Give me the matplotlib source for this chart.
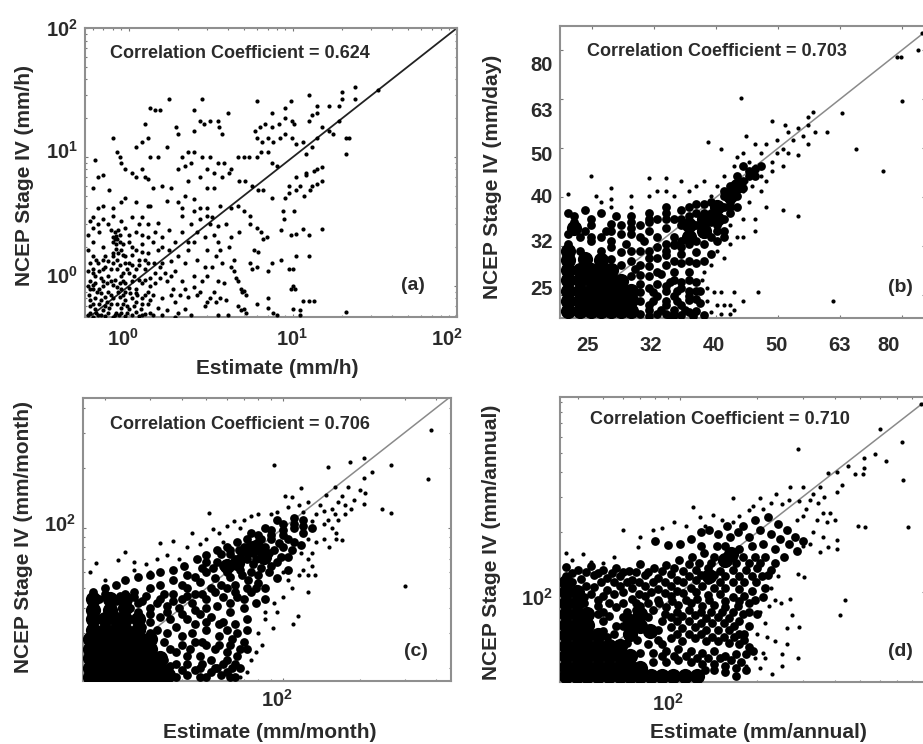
import matplotlib
matplotlib.use("Agg")
import matplotlib.pyplot as plt
from matplotlib.ticker import NullFormatter, LogLocator, NullLocator
from matplotlib.transforms import ScaledTranslation

# ---------- data (estimates) ----------
corr = ["Correlation Coefficient = 0.624", "Correlation Coefficient = 0.703",
        "Correlation Coefficient = 0.706", "Correlation Coefficient = 0.710"]

a_fine = [(1.35,24),(1.45,23),(1.55,23),(1.75,28),(2.5,23),(2.8,28),(4.0,22),(6.0,27),(7.5,22),(9.0,24),(9.7,27),(12.5,30),
(16.5,25),(20,32),(24,35),(24,28),(20,28),(14,25),(33,33),(19,25),(0.8,14),(0.85,11),(0.88,10),(0.9,9),(0.95,8),(1.25,18),(1.3,14),
(1.1,12),(1.2,13),(1.35,10),(1.5,10),(1.7,12),(1.95,17),(2.0,15),(2.5,16),(2.7,19),(3.1,19),(3.5,19),(3.55,17),(3.7,15),(2.85,18),
(5.9,16),(6.3,17),(6.8,18),(7.5,17),(8.2,18),(9,20),(9.8,19),(10.2,18),(6,14),(6.5,13),(7,14),(7.6,13),(8.3,14),(9,15),(9.8,14),
(10.5,12.5),(11.5,13),(12.5,19),(13,21),(14,22),(15,17),(16.5,16),(17.5,15),(19,19),(21,14),(22,14),(21,10.5),(13,12),(12,10.5),(14,14),
(2.1,10),(2.3,11),(2.5,11),(2.8,10),(3.1,10),(3.5,9),(3.8,9),(4.2,8),(4.6,10),(5,10),(5.4,10),(6,10),(6.4,11),(7,11),(7.5,9),(8,8.5),
(2,8),(2.2,8.5),(2.4,9),(3,8),(3.3,7.5),(3.7,7),(4.1,7.5),(2.3,6.5),(2.7,7),(4.7,6.5),(5.1,6.5),(5.6,6),(6.1,5.5),(6.6,5.5),(7.5,4.8),
(1.2,8),(1.25,7),(1.3,6.7),(1.1,7),(1.05,7.5),(1.4,5.8),(1.6,6),(1.8,5.8),(3.0,5.7),(3.3,5.8),(2.2,5),(2.5,4.7),(0.6,5.8),(0.65,7),
(0.7,7.3),(0.62,9.5),(0.76,5.5),(0.9,4.5),(0.95,4.8),(1.1,4.5),(1.3,4.2),(1.35,4.2),(1.7,4.6),(2,4.5),(2.1,4),(2.5,3.8),(2.7,4),(3,4),
(3.2,3.4),(3.6,4.2),(4.2,4),(4.6,4.2),(5,3.8),(5.5,3.5),(2.1,3.5),(2.4,3),(2.7,3.3),(3.1,3),(3.5,2.9),(3.9,3),(0.65,4),(0.7,4.2),(0.8,4),
(0.6,3.4),(0.7,3.3),(0.8,3.5),(0.9,3.2),(1.05,3.4),(1.2,3.4),(1.5,3.1),(1.75,2.7),(2.1,2.6),(2.6,2.6),(2.9,2.4),(3.3,2.5),(4.2,2.4),(4.7,2.6),
(5.5,3),(6,2.8),(6.4,2.6),(6.6,2.3),(6.9,2.4),(5.8,1.9),(8.5,2.7),(8.8,3.3),(10.2,3.8),(9,4.8),(9.5,5.3),(10.5,5.5),(11,6),(11.7,5),(12.7,5.5),
(14,6.2),(15,6.5),(13,6),(12,7.2),(13.5,7.8),(15,8.3),(14,8),(10.5,7),(12,7.5),(9.5,6),(8.7,3.8),(9.7,2.5),(10.4,2.55),(11.5,2.75),(12.5,2.5),
(15,2.75),(7.5,1.5),(7,1.3),(8.5,1.6),(6,1.4),(5.6,1.35),(5.5,1.5),(6.1,1.85),(10.5,1.7),(12.5,1.7),(9.5,1.35),(10,1.35),(9.7,.95),(10.3,.95),(10,1.0),
(21,0.63),(12.5,.77),(11.5,.77),(13.5,.77),(10,.66),(11,.65),(11,.6),(6,.72),(7,.8),(7,.68),(8,.6),(7.6,.62),(5,.66),(4.6,.7),(4.8,.65),
(3.1,.8),(3.4,.75),(3.6,.8),(2.9,.7),(3.0,.75),(3.9,.78),(3.5,.6),(4,.6),(5.2,.62),(4.4,1.6),(4.2,1.4),(4.4,1.3),(4.5,1.15),(4.6,1.1),(4.8,.95),
(5,.92),(4.9,.9),(5.2,.85),(3.4,1.7),(3.7,1.5),(3.2,1.4),(3.5,1.1),(3.8,1.05),(2.5,.98),(2.6,.85),(2.7,.9),(2.5,1.2),(2.9,1.4),(2.2,1.5),(2.0,1.7),
(2.3,1.9),(1.75,1.9),(1.6,2),(1.9,1.3),(2.1,1.1),(2.6,1.6),(3,1.9),(3.6,1.9),(4.1,2),(1.4,2.2),(1.5,1.9),(1.55,1.4),(1.7,1.1),(1.85,.95),(1.6,.8),
(1.9,.75),(1.3,.72),(1.5,.68),(1.7,.65),(2,.62),(2.2,.66),(2.4,.6),(1.6,.6),(1.9,.58),(1.4,.6),(1.25,.85),(1.35,1),(1.45,1.25),(1.25,1.35),(1.15,1.6),
(1.05,2),(1.2,2.1),(1.3,1.8),(1.0,2.2),(.82,2.6),(.85,2.3),(.8,2.4),(.88,2.2),(.83,2.1),(.9,1.9),(.8,1.8),(.95,1.7),(1,1.5),(1.1,1.35),(1.05,1.1),
(.95,1.05),(.9,1.2),(.85,1.35),(.8,1.5),(.75,1.2),(.7,1.35),(.65,1.5),(.6,1.7),(.56,1.9),(.6,2.2),(.56,2.5),(.66,2.6),(.7,2),(.72,1.7),(.62,1.2),(.58,1.1),
(.56,1),(.6,1.02),(.66,.95),(.7,1),(.75,.9),(.8,1.02),(.85,.98),(.9,.95),(.95,.9),(1,.97),(1.1,.95),(1.2,1.05),(.57,.85),(.62,.8),(.68,.78),(.74,.75),(.8,.8),
(.88,.82),(.95,.78),(1.05,.8),(1.12,.85),(.58,.7),(.62,.66),(.7,.65),(.76,.68),(.83,.62),(.9,.68),(1,.66),(1.08,.7),(1.18,.66),(.56,.6),(.6,.58),(.65,.6),(.72,.59),
(.8,.58),(.87,.6),(.95,.59),(1.05,.6),(1.15,.59),(1.25,.61),(.58,.78),(.64,.9),(.72,.82),(.78,1.1),(.92,1.1),(1,1.25),(.68,1.15),(.6,1.35),(.56,1.3),(.75,1.55),(.85,1.6),
(.6,.95),(.7,1.1),(.62,1.05),(.74,1.05),(.82,1.12),(.88,1.05),(.92,1.25),(.98,1.35),(1.08,1.2),(1.15,1.12),(1.25,1.12),(1.35,1.15),(1.45,1.05),(1.55,1.15),(1.65,1.25),(1.8,1.2),(.58,.95),
(.68,.88),(.78,.85),(.86,.9),(.92,.85),(1.02,.88),(1.1,.88),(1.2,.8),(1.3,.9),(1.4,.85),(.6,.72),(.66,.72),(.72,.7),(.78,.72),(.85,.72),(.92,.72),(.98,.7),(1.1,.75),(1.2,.72),(1.35,.78),
(.58,.62),(.63,.62),(.68,.6),(.75,.62),(.82,.6),(.9,.62),(.98,.62),(1.1,.63),(1.2,.6),(1.35,.62),(.6,1.25),(.66,1.3),(.72,1.4),(.78,1.35),(.88,1.45),(.95,1.5),(1.05,1.45),(1.15,1.45),(1.3,1.5),
(1.42,1.5),(1.6,1.5),(1.8,1.55),(.58,1.5),(.63,1.6),(.7,1.6),(.8,1.7),(.86,1.8),(.92,1.75),(1.05,1.75),(1.2,1.85),(1.1,1.9),(1.25,1.6),(.82,2.3),(.84,2.45),(.78,2.7),(.86,2.7),(.8,2.2),(.88,2.5),
(.83,1.95),(.92,2.1),(1,2.5),(1.1,2.6),(1.2,2.5),(1.3,2.4),(.6,2.8),(.65,3),(.58,3.2),(.75,3),(.95,2.8),(1.15,3),(1.3,3),(1.45,2.6),(1.6,2.4),(1.9,2.2),(2.5,2.2),(3.5,2.2),(3,3.5),(2.3,2.2),(3,1.2),
(2.2,.95),(2.3,.82),(1.8,.85),(2.05,.85),(3.3,.9),(2.8,1.1)]

b_fine = [(43.6,63.5),(38.7,51.5),(40.5,50),(25,44),(23,40.5),(27,41.5),(31,43.5),(33,43.5),(44.5,53),(49,57),(51.5,56),(57,59.5),(63.5,59),(57.5,54),
(60,54),(67,50),(74,45),(79,77),(78,77),(79.5,62.5),(84.3,79.4),(85.5,86),(51,37.5),(54,36.5),(61.5,24.5),(46.5,25.5),(42.5,25.5),(44,24.5),(56,58),(56,56),(54,55),
(52,54),(50,52),(48,51),(46,51),(44,49),(47,49),(50,49),(52,49),(54,48.5),(56,51),(55,53),(53,52),(51,50),(49,47),(51,46),(49,45),(47,44),(46,46),(48,43),(45,47),
(43,48),(42.5,46),(47,41),(48,38),(46,36),(45,39),(44,36),(46,34),(44,33),(43,33),(42,35),(42,32),(41,30),(40,31),(39,29),(38,28),(37.8,27),(38.5,26),(39.5,25.5),(40.5,25.5),
(38.5,24.5),(40,24),(41,24),(42,24),(42.5,23.5),(39,23.2),(40.5,23),(42,23),(39,40),(40,42),(41,44),(38,43),(36,41),(35,43),(37,42),(33,41),(32,41),(31,40),(29,40),
(27,39.5),(26,39),(25.5,40),(27,38),(29,38),(34,40),(36,38),(44,41),(43,42),(44.5,43),(45.5,42)]
b_mid = [(23,37),(24.5,37.5),(26,37),(23.5,35.5),(25,36),(27.5,36.5),(29,36.5),(31,37),(33,38),(35,37.5),(37,38.5),(39,39),(41,40),(28,35),(30,35),(32,36),(34,36),(36,36.5),
(38,37),(40,37.5),(42,38),(23,33.5),(24.5,34),(26.5,34),(29,33.5),(31,34),(33,34.5),(35,35),(37,35),(39,35.5),(41,36),(43,40),(44,43),(23,32),(25,32.5),(27,32.5),(28.5,32),(30.5,32.5),
(32,33),(34,33),(36,33.5),(38,33.5),(40,34),(42,37),(43,44),(45,45),(46,44),(24,31),(26,31),(28,30.8),(30,31),(32,31.5),(34,31.8),(36,32),(38,32),(40,32.5),(41,34),(44,46),(42,42),
(27,29.8),(29,29.5),(31,30),(33,30.3),(35,30.5),(37,30.8),(39,30.5),(29.5,28.5),(31,28.8),(33,29),(35,29.2),(37,29.3),(29,27.5),(31,27.5),(32.5,27.8),(34,28),(36,28),(38,29.5),
(30,26.5),(32,26.5),(33.5,26.8),(35,26.8),(37,26.8),(30,25.5),(31.5,25.5),(33,25.6),(34.5,25.6),(36,25.6),(37.5,25.6),(30,24.5),(31.5,24.5),(33,24.5),(34.5,24.5),(36,24.6),(37.5,24.2),
(31,23.5),(32.5,23.5),(34,23.5),(35.5,23.5),(37,23.3),(30,23),(33,23),(35,22.9),(36.5,22.8),(38,22.9),(31,22.8),(33.5,22.8),
(34,32),(36,34.5),(38,35),(40,35),(33,32),(35,32.5),(37,32.5),(39,33),(41,33),(39,37),(41,38),(37,37),(35,36),(33,36),(31,35.5),(29,34.5),(27,34),(25,33),(27,31.5),(29,31),(31,31),(33,31),
(35,31.5),(28,29),(30,29),(32,30),(34,29.5),(36,29.5),(30,27.7),(32,28),(34,27),(36,27),(31,26),(33,26.3),(35,26),(37,25.7),(32,25),(34,25),(36,25),(31,24),(33,24),(35,24),(37,24.7),(32,23),
(34,22.9),(36,23.2),(25,35),(27,35.2),(29,35.5),(31,36),(33,37),(24,33),(26,33),(28,33.5),(30,33),(42,39),(41,41),(43,38),(44,41.5),(45,44),(46,45.5),(47,46),(23.5,36.5),(36,38),(38,38.5)]
b_core = [(23,23.3),(24,23.3),(25,23.3),(26,23.3),(27,23.3),(28,23.3),(29,23.4),(23,24.5),(24,24.5),(25,24.5),(26,24.5),(27,24.5),(28,24.5),(29,24.6),(23,25.7),(24,25.7),(25,25.7),(26,25.7),(27,25.7),
(28,25.7),(29,25.6),(23,27),(24,27),(25,27),(26,27),(27,27),(28,26.9),(23,28.3),(24,28.3),(25,28.3),(26,28.3),(27,28.3),(23,29.7),(24.5,29.8),(26,29.7),(23,31),(23.5,34.5),(36,35),(38,36),(40,36),(38,34),
(40,38),(42,40),(43,42),(36,33)]

c_fine = [(92,207),(150,202),(183,214),(208,225),(381,310),(265,206),(370,175),(223,190),(208,178),(51,119),(245,125),(265,119),(300,51.5),(170,87),(151,80),(118,159),(102,145),(108,143),(148,146),
(160,160),(180,161),(200,155),(210,150),(207,132),(24,76),(18.5,67),(17.5,60),(22.5,69),(33,84),(37,86),(44,95),(114,36.5),(109,33),(91,31.5),(125,48),(133,58),(125,58),(53,99),(56,94),(170,145),(175,130),
(190,138),(165,135),(155,125),(175,118),(185,125),(140,130),(125,135),(115,130),(120,120),(135,118),(150,110),(165,110),(160,118),(145,122),(105,128),(95,120),(90,118),(80,117),(75,115),(70,110),(64,108),
(60,103),(68,100),(130,108),(145,105),(155,100),(162,95),(162,88),(145,88),(135,85),(125,88),(130,75),(125,70),(118,75),(130,65),(120,62),(115,58),(108,50),(100,45),(92,42),(95,38),(85,35),(80,30),(83,26),(78,24),
(75,22),(72,19),(68,18),(85,38),(105,55),(100,60),(26,62),(29,66),(32,70),(35,73),(39,70),(42,80),(47,83),(30,60),(20,55),(26,68),(50,88),(58,85)]
c_mid = [(18,48),(20,50),(22,52),(24,55),(27,57),(30,58),(33,60),(37,62),(41,65),(46,70),(50,73),(55,78),(60,80),(66,85),(72,88),(80,92),(90,98),(100,105),(110,112),(120,110),(130,100),(75,95),(85,100),
(95,110),(110,100),(120,95),(100,92),(90,88),(80,85),(70,80),(62,74),(55,68),(48,63),(42,58),(37,55),(33,52),(30,50),(26,48),(24,47),(68,72),(76,75),(85,80),(92,78),(100,80),(110,85),(118,82),(105,72),(95,68),
(85,70),(76,66),(68,62),(60,60),(54,56),(47,54),(42,50),(37,47),(33,44),(65,52),(73,55),(80,58),(88,60),(95,56),(105,62),(85,50),(75,48),(66,45),(58,45),(50,44),(44,42),(39,40),(35,38),(62,38),(70,40),(78,42),
(85,44),(58,34),(65,33),(72,35),(52,36),(47,37),(42,35),(38,32),(44,30),(50,31),(56,29),(63,28),(70,27),(48,27),(54,25),(60,24),(66,23),(43,25),(47,23),(52,22),(58,21),(63,20),(68,20),(72,25),(42,21),(47,20),(52,19),
(57,18.5),(62,18),(42,18.5),(47,18),(38,18),(38,21),(38,24),(34,27),(30,30),(30,34),(27,38),(30,40),(35,41),(25,40),(22,43),(19,44),(26,45),(29,46),(34,47),
(20,47),(23,46),(28,43),(32,42),(37,43),(40,44),(45,47),(52,50),(57,52),(62,57),(69,58),(75,60),(82,63),(90,65),(98,72),(108,78),(40,52),(45,57),(50,60),(53,63),(58,65),(65,70),(72,70),(78,70),(88,75),(96,84),(105,88),
(75,82),(82,88),(90,92),(100,98),(110,105),(120,102),(50,68),(57,74),(62,78),(67,78),(40,37),(45,39),(50,40),(55,41),(62,42),(70,44),(78,50),(42,46),(48,47),(54,48),(60,50),(65,48),(72,50),(80,53),(35,30),(40,29),
(45,33),(50,34),(56,33),(60,31),(66,30),(72,31),(40,26),(45,27),(50,26),(56,26),(62,26),(68,25),(42,23),(48,21),(54,20),(60,22),(65,21),(40,19.5),(45,19.5),(50,18),(55,20),(60,19),(65,18),(36,25),(34,22),(36,20.5),
(36,35),(33,36),(30,37),(27,42),(24,37),(32,31),(28,32)]
c_core = [(17.5,18),(19,18),(21,18),(23,18),(25,18),(27.5,18),(30,18),(33,18),(35.5,18.5),(17.5,20),(19,20),(21,20),(23,20),(25,20),(27.5,20),(30,20),(33,20),(17.5,22.5),(19,22.5),(21,22.5),(23,22.5),(25,22.5),(27.5,22.5),(30,22.5),(33,22.5),
(17.5,25),(19,25),(21,25),(23,25),(25,25),(27.5,25),(30,25),(17.5,28),(19,28),(21,28),(23,28),(25,28),(27.5,28),(30,28),(18,31),(20,31),(22,31),(24,31),(27,31),(18,35),(20,35),(22,35),(24,35),(27,35),(18,39),(21,39),(24,40),
(18,44),(21,44),(24,44),(73,78),(78,80),(84,72),(60,65),(66,67)]

d_fine = [(289,523),(602,653),(735,565),(872,872),(742,365),(632,452),(575,489),(521,471),(521,420),(518,389),(480,392),(452,426),(495,215),(525,212),(775,212),(438,92),(420,77),(287,47),(227,39),(249,43),(60,206),(112,267),(160,296),
(205,296),(268,336),(300,338),(378,395),(408,400),(426,343),(408,317),(402,231),(408,182),(408,165),(378,168),(350,159),(35.8,157),(41.8,156),(68.4,168),(134,243),(119,238),(185,257),(193,270),(236,311),(289,124),(303,119),(268,93),(272,77),
(290,67),(260,66),(260,55),(249,49),(350,335),(330,310),(365,300),(345,280),(320,290),(360,250),(385,250),(340,230),(375,225),(310,260),(290,285),(265,290),(250,275),(225,280),(210,260),(300,240),(330,200),(360,190),(320,175),(300,170),
(285,230),(240,120),(225,105),(235,92),(248,88),(222,85),(205,80),(215,70),(200,62),(218,60),(235,57),(210,50),(195,47),(180,43),(170,45),(205,42),(215,47),(160,225),(145,230),(125,215),(105,215),(95,225),(85,210),(78,205),(70,190),
(170,240),(55,150),(50,140),(45,142),(38,145)]
d_mid = [(36,134),(40,130),(45,136),(50,129),(56,133),(63,128),(70,138),(79,132),(88,137),(99,145),(111,150),(124,158),(139,170),(156,190),(175,215),(196,230),(220,238),(240,220),(260,205),(280,190),(300,180),(110,185),(120,200),(130,205),
(100,175),(90,172),(80,180),(140,195),(152,215),(168,200),(185,190),(205,205),(225,195),(245,185),(265,175),(285,160),(150,170),(170,165),(190,170),(210,175),(235,165),(255,150),(120,170),(135,150),(155,150),(175,150),(195,150),(215,150),(235,140),
(36,120),(41,116),(46,122),(52,118),(58,120),(65,115),(73,122),(82,118),(92,123),(103,128),(115,130),(128,132),(143,128),(160,130),(180,130),(200,132),(220,122),(65,105),(73,108),(82,104),(92,108),(103,112),(115,115),(128,115),(143,112),(160,112),
(178,112),(198,112),(215,105),(46,106),(52,103),(58,107),(65,93),(73,96),(82,92),(92,96),(103,99),(115,100),(128,97),(143,98),(160,95),(178,96),(195,92),(210,95),(88,84),(98,86),(110,88),(122,85),(136,86),(150,84),(168,85),(185,80),(200,78),
(92,75),(102,76),(114,77),(126,74),(140,75),(155,74),(170,72),(185,68),(82,65),(92,67),(102,66),(114,67),(126,65),(140,65),(155,65),(170,62),(82,58),(92,59),(102,57),(114,59),(126,57),(140,57),(155,56),(170,55),(185,53),(88,51),(98,52),(110,51),
(122,50),(136,51),(150,48),(165,49),(180,49),(192,51),(78,45),(88,45),(98,46),(110,45),(122,44),(136,44),(150,43),(165,42),(50,80),(56,84),(62,80),(50,72),(56,68),(50,64),(75,75),(70,85),(42,95),(48,92),
(38,125),(43,126),(48,125),(54,125),(60,126),(67,126),(75,127),(85,128),(95,132),(108,138),(118,140),(132,140),(148,140),(165,140),(185,140),(205,140),(225,130),(125,122),(135,122),(150,120),(170,120),(190,120),(208,120),(38,112),(43,108),(49,112),
(55,112),(62,112),(69,112),(78,112),(87,112),(97,115),(108,120),(120,122),(55,98),(60,100),(69,98),(77,100),(87,99),(97,102),(110,105),(122,107),(135,105),(150,105),(170,104),(190,102),(45,98),(50,96),(42,88),(48,85),(53,88),(60,88),(67,88),(75,88),
(83,88),(93,90),(105,92),(116,93),(130,92),(150,90),(170,90),(185,88),(48,78),(53,76),(60,75),(67,82),(78,82),(87,78),(97,80),(108,82),(120,80),(132,80),(145,80),(160,80),(175,78),(52,60),(55,62),(60,68),(68,58),(75,55),(85,72),(97,72),(108,72),(120,70),
(133,70),(148,70),(162,68),(178,62),(62,56),(70,50),(78,50),(85,55),(97,62),(108,62),(120,62),(133,60),(148,60),(162,60),(178,58),(85,48),(95,48),(105,48),(116,47),(128,47),(143,47),(158,46),(172,45),(125,41),(135,41),(150,40),(165,38),(180,41)]
d_core = [(36,38),(39.5,38),(43.5,38),(48,38),(53,38),(58,38),(64,38),(70,38),(77,38),(85,38),(94,38),(104,38),(116,38),(36,42.5),(39.5,42.5),(43.5,42.5),(48,42.5),(53,42.5),(58,42.5),(64,42.5),(70,42),(36,48),(39.5,48),(43.5,48),(48,48),(53,48),(58,48),(64,48),
(36,54),(39.5,54),(43.5,54),(48,54),(53,54),(58,54),(36,61),(39.5,61),(43.5,61),(48,61),(36,69),(39.5,69),(43.5,69),(36,78),(39.5,78),(43.5,78),(36,88),(39.5,88),(36,100),(39.5,100),(36,112),(64,72),(70,68),(76,64),(64,62),(70,78),(150,145),(158,155),(130,120)]

# ---------- styles and placement ----------
plt.rcParams['font.family'] = ['Liberation Sans', 'DejaVu Sans']
plt.rcParams['font.weight'] = 'bold'
plt.rcParams['mathtext.fontset'] = 'custom'
plt.rcParams['mathtext.bf'] = 'Liberation Sans:bold'
plt.rcParams['mathtext.rm'] = 'Liberation Sans:bold'
W, H = 923, 744
TXT = '#2a2a2a'
fig = plt.figure(figsize=(W/100, H/100), dpi=100, facecolor='white')

def box(l, t, r, b):
    return [l/W, 1-b/H, (r-l)/W, (b-t)/H]

def put(x, y, s, **kw):
    fig.text(x/W, 1-y/H, s, color=TXT, ha=kw.pop('ha', 'center'), va=kw.pop('va', 'center'), **kw)

def panel(pos, xlim, ylim, line_color, line_w):
    ax = fig.add_axes(box(*pos))
    ax.set_xscale('log'); ax.set_yscale('log')
    ax.set_xlim(*xlim); ax.set_ylim(*ylim)
    lo, hi = min(xlim[0], ylim[0]), max(xlim[1], ylim[1])
    ax.plot([lo, hi], [lo, hi], color=line_color, lw=line_w, zorder=1)
    for s in ax.spines.values():
        s.set_color('#8f8f8f'); s.set_linewidth(1.5)
    ax.tick_params(which='both', direction='in', top=True, right=True, color='#777777',
                   length=2.5, width=0.8, labelsize=14.5, labelcolor=TXT)
    ax.tick_params(which='minor', length=1.5)
    return ax

def dots(ax, fine, mid=(), core=()):
    for pts, s in ((core, 120), (mid, 40), (fine, 9)):
        if len(pts):
            xs, ys = zip(*pts)
            ax.scatter(xs, ys, s=s, c='black', linewidths=0, zorder=3, clip_on=True)

def ticks(ax, xv, xl, xdx, yv, yl, ydy, xpad=8, ypad=5):
    ax.set_xticks(xv); ax.set_xticklabels(xl)
    ax.set_yticks(yv); ax.set_yticklabels(yl)
    ax.tick_params(axis='x', pad=xpad); ax.tick_params(axis='y', pad=ypad)
    for lab, dx in zip(ax.get_xticklabels(), xdx):
        lab.set_transform(lab.get_transform() + ScaledTranslation(dx/100, 0, fig.dpi_scale_trans))
    for lab, dy in zip(ax.get_yticklabels(), ydy):
        lab.set_transform(lab.get_transform() + ScaledTranslation(0, dy/100, fig.dpi_scale_trans))

def e(n):
    return r'$\mathbf{10^{%d}}$' % n

# (a)
axa = panel((85, 28, 457, 317), (0.54, 100), (0.575, 100), '#222222', 1.3)
dots(axa, a_fine)
ticks(axa, [1, 10, 100], [e(0), e(1), e(2)], [-6, -1, -10], [1, 10, 100], [e(0), e(1), e(2)], [11, 7, 0])
axa.yaxis.set_minor_locator(LogLocator(base=10, subs=range(2, 10), numticks=12))
axa.xaxis.set_minor_locator(LogLocator(base=10, subs=range(2, 10), numticks=12))
axa.xaxis.set_minor_formatter(NullFormatter()); axa.yaxis.set_minor_formatter(NullFormatter())

# (b)
axb = panel((560, 26, 925, 318), (22.3, 86.5), (22.6, 88.9), '#8a8a8a', 1.1)
dots(axb, b_fine, b_mid, b_core)
tv = [25.12, 31.62, 39.81, 50.12, 63.10, 79.43]
tl = ['25', '32', '40', '50', '63', '80']
ticks(axb, tv, tl, [-5, -3, -2, -1, -1, -13], tv, tl, [8, 6, 2, -5, -10, -13], xpad=13)
axb.xaxis.set_minor_locator(NullLocator()); axb.yaxis.set_minor_locator(NullLocator())

# (c)
axc = panel((83, 398, 451, 681), (16.4, 456), (17.2, 447), '#8a8a8a', 1.1)
dots(axc, c_fine, c_mid, c_core)
ticks(axc, [100], [e(2)], [-6], [100], [e(2)], [5], xpad=6)
for axis in (axc.xaxis, axc.yaxis):
    axis.set_minor_locator(LogLocator(base=10, subs=range(2, 10), numticks=12))
    axis.set_minor_formatter(NullFormatter())

# (d)
axd = panel((560, 397, 925, 682), (34, 900), (35.6, 948), '#8a8a8a', 1.1)
dots(axd, d_fine, d_mid, d_core)
ticks(axd, [100], [e(2)], [-12], [100], [e(2)], [-5], xpad=8)
for axis in (axd.xaxis, axd.yaxis):
    axis.set_minor_locator(LogLocator(base=10, subs=range(2, 10), numticks=12))
    axis.set_minor_formatter(NullFormatter())

# texts
for (x, y), s in zip([(110, 53), (587, 52), (110, 424), (590, 419)], corr):
    put(x, y, s, fontsize=13, ha='left', fontweight='bold')
for (x, y), s in zip([(413, 286), (900, 288), (416, 652), (900, 652)], ['(a)', '(b)', '(c)', '(d)']):
    put(x, y, s, fontsize=14, fontweight='bold')
for (x, y), s in zip([(277, 369), (270, 732), (758, 732)],
                     ['Estimate (mm/h)', 'Estimate (mm/month)', 'Estimate (mm/annual)']):
    put(x, y, s, fontsize=15, fontweight='bold')
for (x, y), s in zip([(25, 175), (493, 177), (24, 537), (491, 542)],
                     ['NCEP Stage IV (mm/h)', 'NCEP Stage IV (mm/day)', 'NCEP Stage IV (mm/month)', 'NCEP Stage IV (mm/annual)']):
    put(x, y, s, fontsize=15, rotation=90, fontweight='bold')

fig.savefig('out.png', dpi=100, facecolor='white')
